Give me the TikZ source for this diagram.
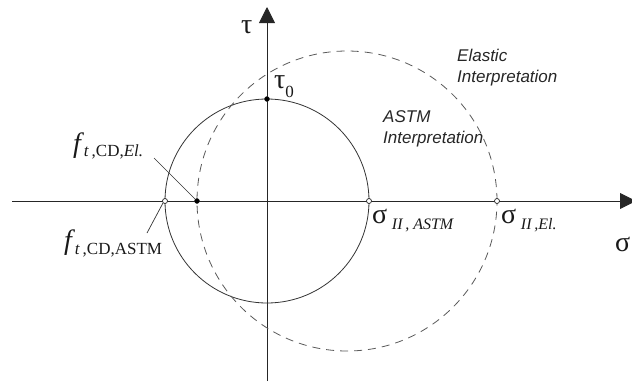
\documentclass[tikz,border=0pt]{standalone}
\usepackage{fontspec}
\setmainfont{Liberation Serif}
\setsansfont{Liberation Sans}
\usetikzlibrary{arrows.meta}
\newcommand{\bigf}{\fontsize{28}{30}\selectfont}
\newcommand{\subf}{\fontsize{17}{18}\selectfont\upshape}
\newcommand{\grk}{\fontsize{28}{30}\selectfont}
\newcommand{\subs}{\fontsize{16}{18}\selectfont}
\begin{document}
\begin{tikzpicture}[x=1pt,y=-1pt,
  axisline/.style={line width=0.9pt, draw=black!85, -{Triangle[length=16pt,width=16pt]}},
  solidcirc/.style={line width=0.8pt, draw=black!80},
  dashcirc/.style={line width=0.8pt, draw=black!65, dash pattern=on 8pt off 6pt},
  leader/.style={line width=0.7pt, draw=black!80},
  odot/.style={circle, draw=black!85, fill=white, line width=0.7pt, inner sep=0pt, minimum size=5pt},
  fdot/.style={circle, draw=black!85, fill=black, inner sep=0pt, minimum size=5pt},
  lbl/.style={inner sep=0pt, anchor=base west, text=black!90},
  note/.style={inner sep=0pt, anchor=base west, text=black!85, font=\sffamily\itshape\fontsize{17}{21}\selectfont, align=left}
]
\useasboundingbox (0,0) rectangle (632,381);
% axes
\coordinate (xs) at (12,201);
\coordinate (xe) at (636,201);
\coordinate (ys) at (267,381);
\coordinate (ye) at (267,7);
\draw[axisline] (xs) -- (xe);
\draw[axisline] (ys) -- (ye);
% circles
\draw[solidcirc] (267,201) circle[radius=102pt];
\draw[dashcirc] (347,201) circle[radius=150pt];
% points
\node[odot] (pA) at (165,201) {};
\node[fdot] (pE) at (197,201) {};
\node[odot] (sA) at (369,201) {};
\node[odot] (sE) at (497,201) {};
\node[fdot] (t0) at (267,99) {};
% leaders
\coordinate (lE) at (154,158);
\coordinate (lA) at (147,233);
\draw[leader] (lE) -- (pE);
\draw[leader] (lA) -- (pA.south west);
% labels
\node[lbl] (tau) at (241,33) {\grk τ};
\node[lbl] (tau0) at (274,88) {\grk τ\raisebox{-9pt}{\subf 0}};
\node[lbl] (sig) at (615,251) {\grk σ};
\node[lbl] (sIIA) at (372,223) {\grk σ\,\raisebox{-6pt}{\subs\itshape II\,, ASTM}};
\node[lbl] (sIIE) at (501,223) {\grk σ\,\raisebox{-6pt}{\subs\itshape II\,,El.}};
\node[lbl] (fE) at (73,152) {\bigf\itshape f\raisebox{-4pt}{\subf\,\textit{t}\,,CD,\textit{El.}}};
\node[lbl] (fA) at (64,249) {\bigf\itshape f\raisebox{-5pt}{\subf\,\textit{t}\,,CD,ASTM}};
\node[note] (el) at (457,82) {Elastic\\Interpretation};
\node[note] (as) at (383,143) {ASTM\\Interpretation};
\end{tikzpicture}
\end{document}
